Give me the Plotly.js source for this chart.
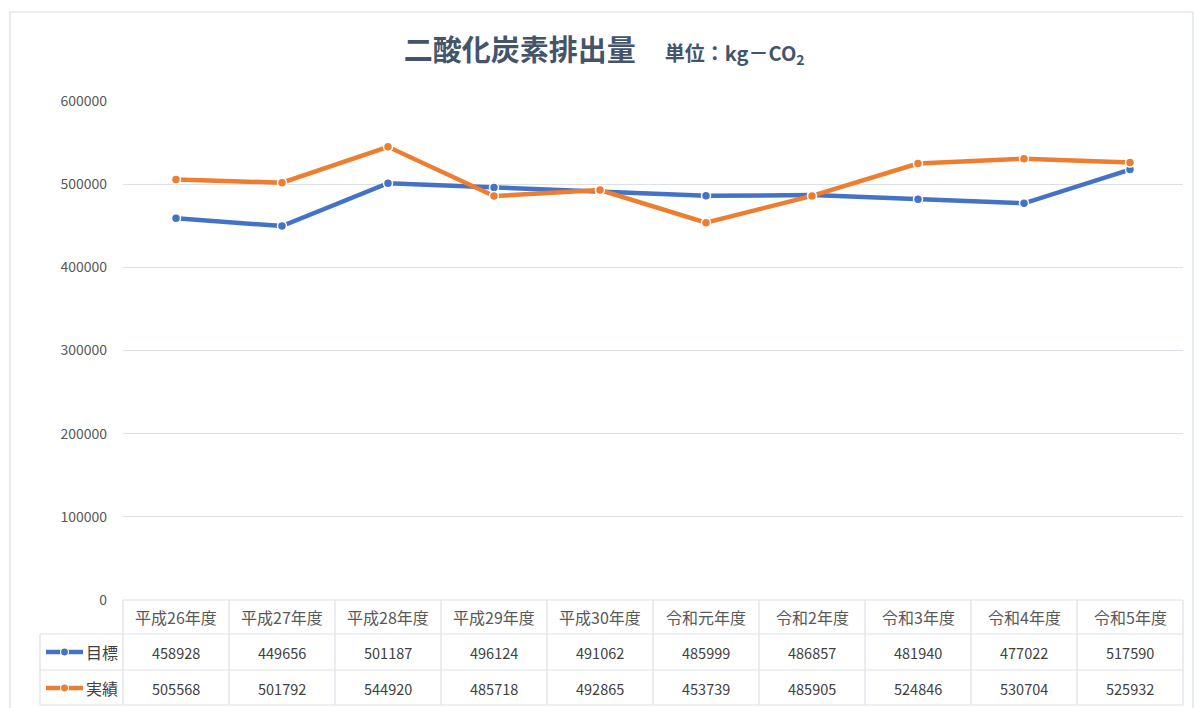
<!DOCTYPE html>
<html>
<head>
<meta charset="utf-8">
<script src="https://cdn.plot.ly/plotly-3.0.1.min.js"></script>
<style>html,body{margin:0;padding:0;background:#fff;}#chart{width:1194px;height:708px;}</style>
</head>
<body>
<div id="chart"></div>
<script>
const categories = ["平成26年度","平成27年度","平成28年度","平成29年度","平成30年度","令和元年度","令和2年度","令和3年度","令和4年度","令和5年度"];
const targetName = "目標";
const actualName = "実績";
const targetValues = [458928,449656,501187,496124,491062,485999,486857,481940,477022,517590];
const actualValues = [505568,501792,544920,485718,492865,453739,485905,524846,530704,525932];
const yTicks = [0,100000,200000,300000,400000,500000,600000];

const BLUE = "#4472C4", ORANGE = "#ED7D31";
const FONT = "Noto Sans CJK JP, Noto Sans, sans-serif";
const GRID = "#DCE0E8";

// pixel geometry helpers (plot area: x 123..1183, y 101..600)
const L = 123, R = 1183, T = 101, B = 600;
const px = x => (x - L) / (R - L);
const py = y => (B - y) / (B - T);
const n = categories.length;
const colW = (R - L) / n;

const shapes = [];
const annotations = [];
const line = (x0,y0,x1,y1,color,w) => shapes.push({type:"line",xref:"paper",yref:"paper",x0:px(x0),y0:py(y0),x1:px(x1),y1:py(y1),line:{color:color,width:w}});

// outer border
shapes.push({type:"rect",xref:"paper",yref:"paper",x0:px(10),y0:py(12),x1:px(1193),y1:py(712),line:{color:"#D9DEE6",width:1.2},fillcolor:"rgba(0,0,0,0)"});

// table grid
const rows = [600, 634, 670, 705];
line(L,600,R,600,GRID,1.2);
for (let i=1;i<rows.length;i++) line(40,rows[i],R,rows[i],GRID,1.2);
for (let i=0;i<=n;i++) line(L+colW*i,600,L+colW*i,705,GRID,1.2);
line(40,634,40,705,GRID,1.2);

// header labels and values
categories.forEach((c,i)=>{
  annotations.push({xref:"paper",yref:"paper",x:px(L+colW*(i+0.5)),y:py(617),text:c,showarrow:false,xanchor:"center",yanchor:"middle",font:{family:FONT,size:16,color:"#595959"}});
  annotations.push({xref:"paper",yref:"paper",x:px(L+colW*(i+0.5)),y:py(652),text:String(targetValues[i]),showarrow:false,xanchor:"center",yanchor:"middle",font:{family:FONT,size:14.5,color:"#404040"}});
  annotations.push({xref:"paper",yref:"paper",x:px(L+colW*(i+0.5)),y:py(688),text:String(actualValues[i]),showarrow:false,xanchor:"center",yanchor:"middle",font:{family:FONT,size:14.5,color:"#404040"}});
});

// legend keys in table
[[targetName,BLUE,652],[actualName,ORANGE,688]].forEach(([name,col,y])=>{
  line(46,y,83,y,col,4.5);
  shapes.push({type:"circle",xref:"paper",yref:"paper",x0:px(60.5),x1:px(68.5),y0:py(y-4),y1:py(y+4),fillcolor:col,line:{color:"#fff",width:1.2}});
  annotations.push({xref:"paper",yref:"paper",x:px(102),y:py(y),text:name,showarrow:false,xanchor:"center",yanchor:"middle",font:{family:FONT,size:16,color:"#404040"}});
});

const traces = [
  {x:categories.map((_,i)=>i),y:targetValues,name:targetName,type:"scatter",mode:"lines+markers",line:{color:BLUE,width:4.5},marker:{size:9,color:BLUE,line:{color:"#fff",width:1.5}}},
  {x:categories.map((_,i)=>i),y:actualValues,name:actualName,type:"scatter",mode:"lines+markers",line:{color:ORANGE,width:4.5},marker:{size:9,color:ORANGE,line:{color:"#fff",width:1.5}}}
];

const layout = {
  width:1194,height:708,
  margin:{l:L,r:1194-R,t:T,b:708-B,pad:0},
  paper_bgcolor:"#fff",plot_bgcolor:"#fff",
  showlegend:false,
  title:{
    text:"<b>二酸化炭素排出量</b>　<b><span style='font-size:20px'>単位：kg－CO<sub>2</sub></span></b>",
    x:0.506,xref:"container",xanchor:"center",
    y:1-51/708,yref:"container",yanchor:"middle",
    font:{family:FONT,size:29,color:"#44546A"}
  },
  xaxis:{range:[-0.5,n-0.5],showgrid:false,zeroline:false,showline:false,showticklabels:false,ticks:"",fixedrange:true},
  yaxis:{range:[0,600000],tickvals:yTicks,ticktext:yTicks.map(String),showgrid:true,gridcolor:GRID,gridwidth:1.2,zeroline:false,showline:false,ticks:"",ticklabelstandoff:15,tickfont:{family:FONT,size:14,color:"#595959"},fixedrange:true},
  shapes:shapes,
  annotations:annotations
};

Plotly.newPlot("chart",traces,layout,{displayModeBar:false,staticPlot:true});
</script>
</body>
</html>
